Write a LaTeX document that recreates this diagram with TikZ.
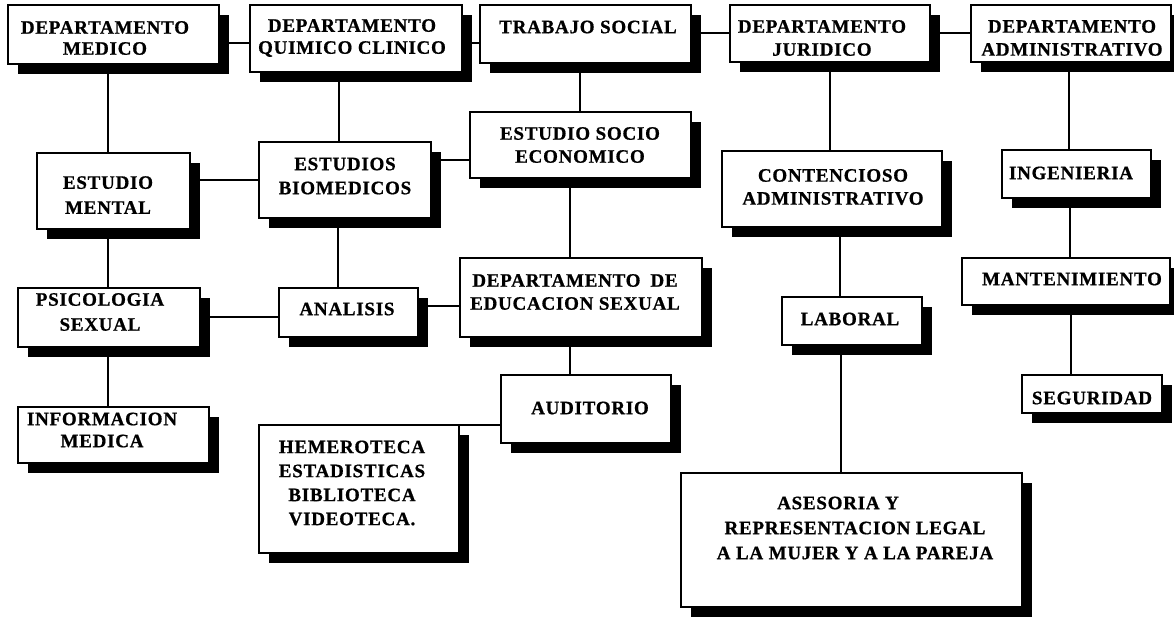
\documentclass[tikz,border=0pt]{standalone}
\usepackage{fontspec}
\setmainfont{Liberation Serif}[LetterSpace=4, FakeBold=0.8]
\usetikzlibrary{shadows}
\pgfdeclarelayer{background}
\pgfsetlayers{background,main}
\tikzset{
  box/.style={draw, line width=1.4pt, fill=white, rectangle, inner sep=0pt, outer sep=0pt,
    anchor=north west,
    drop shadow={shadow xshift=10pt, shadow yshift=-10pt, fill=black, opacity=1}},
  lbl/.style={font=\bfseries\fontsize{19}{23}\selectfont, align=center, inner sep=0pt},
  link/.style={line width=1.3pt}
}
\begin{document}
\begin{tikzpicture}[x=1pt,y=-1pt]
\useasboundingbox (0,0) rectangle (1174,616);
\begin{pgfonlayer}{background}
\fill[white] (0,0) rectangle (1174,616);
\end{pgfonlayer}

% boxes
\node[box, minimum width=211pt, minimum height=59pt] (med)    at (8,5) {};
\node[box, minimum width=212pt, minimum height=67pt] (quim)   at (250,5) {};
\node[box, minimum width=211pt, minimum height=58pt] (trab)   at (480,5) {};
\node[box, minimum width=200pt, minimum height=57pt] (jur)    at (730,5) {};
\node[box, minimum width=200pt, minimum height=57pt] (adm)    at (971,5) {};
\node[box, minimum width=153pt, minimum height=76pt] (mental) at (37,153) {};
\node[box, minimum width=172pt, minimum height=76pt] (bio)    at (259,142) {};
\node[box, minimum width=221pt, minimum height=66pt] (soc)    at (470,112) {};
\node[box, minimum width=220pt, minimum height=76pt] (cont)   at (722,151) {};
\node[box, minimum width=149pt, minimum height=48pt] (ing)    at (1002,150) {};
\node[box, minimum width=182pt, minimum height=59pt] (psi)    at (18,288) {};
\node[box, minimum width=139pt, minimum height=49pt] (ana)    at (279,288) {};
\node[box, minimum width=242pt, minimum height=79pt] (edu)    at (460,258) {};
\node[box, minimum width=140pt, minimum height=48pt] (lab)    at (782,297) {};
\node[box, minimum width=208pt, minimum height=47pt] (mant)   at (962,258) {};
\node[box, minimum width=140pt, minimum height=38pt] (seg)    at (1022,375) {};
\node[box, minimum width=191pt, minimum height=56pt] (inf)    at (18,407) {};
\node[box, minimum width=170pt, minimum height=68pt] (aud)    at (501,375) {};
\node[box, minimum width=200pt, minimum height=128pt] (hem)   at (259,425) {};
\node[box, minimum width=341pt, minimum height=134pt] (ase)   at (681,473) {};

% labels
\node[lbl] (med-t)    at (105,38)  {DEPARTAMENTO\\[-2pt]MEDICO};
\node[lbl] (quim-t)   at (352,38)  {DEPARTAMENTO\\[-1pt]QUIMICO CLINICO};
\node[lbl] (trab-t)   at (588,27)  {TRABAJO SOCIAL};
\node[lbl] (jur-t)    at (822,38)  {DEPARTAMENTO\\JURIDICO};
\node[lbl] (adm-t)    at (1072,38) {DEPARTAMENTO\\ADMINISTRATIVO};
\node[lbl] (mental-t) at (108,195) {ESTUDIO\\[2pt]MENTAL};
\node[lbl] (bio-t)    at (345,176) {ESTUDIOS\\[1pt]BIOMEDICOS};
\node[lbl] (soc-t)    at (580,145) {ESTUDIO SOCIO\\ECONOMICO};
\node[lbl] (cont-t)   at (833,187) {CONTENCIOSO\\ADMINISTRATIVO};
\node[lbl] (ing-t)    at (1071,173) {INGENIERIA};
\node[lbl] (psi-t)    at (100,312) {PSICOLOGIA\\[2pt]SEXUAL};
\node[lbl] (ana-t)    at (347,309) {ANALISIS};
\node[lbl] (edu-t)    at (575,292) {DEPARTAMENTO\hspace{10pt}DE\\EDUCACION SEXUAL};
\node[lbl] (lab-t)    at (850,319) {LABORAL};
\node[lbl] (mant-t)   at (1072,279) {MANTENIMIENTO};
\node[lbl] (seg-t)    at (1092,398) {SEGURIDAD};
\node[lbl] (inf-t)    at (102,430) {INFORMACION\\[-1pt]MEDICA};
\node[lbl] (aud-t)    at (590,408) {AUDITORIO};
\node[lbl] (hem-t)    at (352,483) {HEMEROTECA\\[1pt]ESTADISTICAS\\[1pt]BIBLIOTECA\\[1pt]VIDEOTECA.};
\node[lbl] (ase-t)    at (855,528) {ASESORIA Y\hspace*{34pt}\\[2pt]REPRESENTACION LEGAL\\[2pt]A LA MUJER Y A LA PAREJA};

% connectors
\begin{pgfonlayer}{background}
\draw[link] (med.east |- 0,43) -- (quim.west |- 0,43);
\draw[link] (quim.east |- 0,43) -- (trab.west |- 0,43);
\draw[link] (trab.east |- 0,33) -- (jur.west |- 0,33);
\draw[link] (jur.east |- 0,33) -- (adm.west |- 0,33);
\draw[link] (med.south -| 108,0) -- (mental.north -| 108,0);
\draw[link] (quim.south -| 339,0) -- (bio.north -| 339,0);
\draw[link] (trab.south -| 580,0) -- (soc.north -| 580,0);
\draw[link] (jur.south -| 830,0) -- (cont.north -| 830,0);
\draw[link] (adm.south -| 1069,0) -- (ing.north -| 1069,0);
\draw[link] (mental.east |- 0,180) -- (bio.west |- 0,180);
\draw[link] (bio.east |- 0,160) -- (soc.west |- 0,160);
\draw[link] (mental.south -| 108,0) -- (psi.north -| 108,0);
\draw[link] (bio.south -| 338,0) -- (ana.north -| 338,0);
\draw[link] (psi.east |- 0,317) -- (ana.west |- 0,317);
\draw[link] (ana.east |- 0,306) -- (edu.west |- 0,306);
\draw[link] (soc.south -| 570,0) -- (edu.north -| 570,0);
\draw[link] (cont.south -| 840,0) -- (lab.north -| 840,0);
\draw[link] (ing.south -| 1070,0) -- (mant.north -| 1070,0);
\draw[link] (mant.south -| 1071,0) -- (seg.north -| 1071,0);
\draw[link] (psi.south -| 108,0) -- (inf.north -| 108,0);
\draw[link] (edu.south -| 570,0) -- (aud.north -| 570,0);
\draw[link] (hem.north east) -- (aud.west |- hem.north east);
\draw[link] (lab.south -| 841,0) -- (ase.north -| 841,0);
\end{pgfonlayer}
\end{tikzpicture}
\end{document}
